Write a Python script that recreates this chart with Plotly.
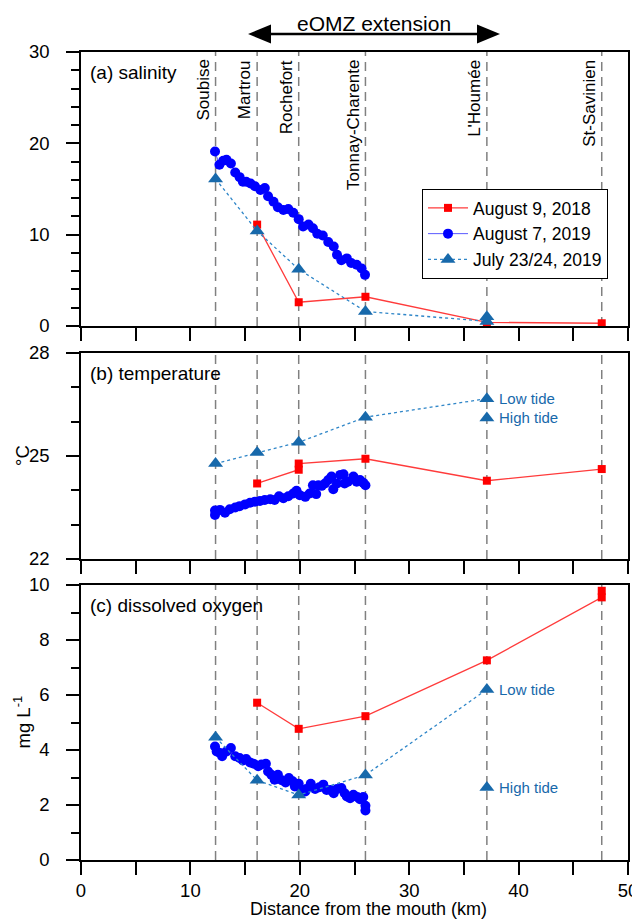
import plotly.graph_objects as go

# ---------------- data ----------------
stations = ["Soubise", "Martrou", "Rochefort", "Tonnay-Charente", "L'Houmée", "St-Savinien"]
station_km = [12.3, 16.1, 19.9, 26.0, 37.1, 47.6]

# August 9, 2018 (red squares)
km_2018_sal = [16.1, 19.9, 26.0, 37.1, 47.6]
sal_2018 = [11.1, 2.6, 3.2, 0.4, 0.3]
km_2018_temp = [16.1, 19.9, 19.9, 26.0, 37.1, 47.6]
temp_2018 = [24.2, 24.6, 24.78, 24.92, 24.28, 24.62]
km_2018_do = [16.1, 19.9, 26.0, 37.1, 47.6, 47.6]
do_2018 = [5.72, 4.77, 5.23, 7.26, 9.55, 9.79]

# July 23/24, 2019 (triangles) - line to low tide at L'Houmée
km_jul = [12.3, 16.1, 19.9, 26.0, 37.1]
sal_jul = [16.1, 10.4, 6.2, 1.6, 0.5]
temp_jul = [24.78, 25.1, 25.4, 26.13, 26.67]
do_jul = [4.46, 2.9, 2.36, 3.09, 6.2]
km_high = [37.1]
sal_high = [1.0]
temp_high = [26.11]
do_high = [2.64]

# August 7, 2019 (blue dots)
km_aug_sal = [12.25, 12.65, 13.0, 13.3, 13.7, 14.1, 14.5, 14.8, 15.1, 15.5, 15.9, 16.4, 16.8,
              17.1, 17.6, 18.0, 18.5, 18.95, 19.4, 19.9, 20.3, 20.8, 21.2, 21.6, 22.1, 22.6,
              23.1, 23.4, 23.8, 24.3, 24.7, 25.2, 25.65, 25.96]
sal_aug = [19.1, 17.65, 18.1, 18.2, 17.8, 16.8, 16.3, 15.8, 15.8, 15.6, 15.3, 14.9, 15.1,
           14.2, 13.6, 13.0, 12.7, 12.8, 12.4, 11.7, 10.9, 11.1, 10.7, 10.1, 9.9, 9.2,
           8.7, 7.8, 7.2, 7.4, 6.9, 6.7, 6.3, 5.6]

km_aug_temp = [12.25, 12.25, 12.7, 13.16, 13.6, 14.1, 14.5, 15.0, 15.45, 15.9, 16.36, 16.8,
               17.3, 17.7, 18.1, 18.5, 18.95, 19.4, 19.7, 20.0, 20.5, 20.9, 21.2, 21.5, 21.7,
               22.0, 22.3, 22.6, 22.9, 23.06, 23.4, 23.7, 24.0, 24.1, 24.4, 24.9, 25.2, 25.5,
               25.8, 26.0]
temp_aug = [23.28, 23.41, 23.43, 23.35, 23.45, 23.5, 23.54, 23.59, 23.64, 23.67, 23.69, 23.72,
            23.74, 23.72, 23.83, 23.77, 23.83, 23.91, 23.99, 23.86, 23.81, 23.91, 24.15, 23.89,
            24.15, 24.13, 24.2, 24.3, 24.4, 24.03, 24.2, 24.45, 24.47, 24.2, 24.25, 24.4, 24.25,
            24.3, 24.22, 24.15]

km_aug_do = [12.25, 12.4, 12.7, 12.9, 13.3, 13.7, 14.1, 14.5, 14.8, 15.1, 15.45, 15.8, 16.2,
             16.5, 16.9, 17.1, 17.4, 17.7, 18.0, 18.35, 18.7, 19.0, 19.35, 19.55, 19.9, 20.2,
             20.5, 20.6, 21.0, 21.4, 21.8, 22.15, 22.45, 22.8, 23.1, 23.4, 23.8, 24.1, 24.3,
             24.6, 24.9, 25.25, 25.5, 25.8, 26.0, 26.0]
do_aug = [4.13, 3.95, 3.89, 3.77, 3.95, 4.07, 3.77, 3.71, 3.62, 3.67, 3.55, 3.5, 3.41,
          3.47, 3.5, 3.22, 3.1, 2.92, 3.1, 2.9, 2.82, 2.98, 2.86, 2.67, 2.77, 2.55,
          2.49, 2.58, 2.77, 2.58, 2.65, 2.74, 2.55, 2.55, 2.43, 2.58, 2.62, 2.43, 2.31,
          2.25, 2.37, 2.29, 2.21, 2.29, 1.97, 1.8]

# ---------------- style ----------------
RED = "#ff0000"
REDLINE = "#ff3b3b"
BLUE = "#0000ff"
TRI = "#1769ab"
FONT = "Liberation Sans, Arial, sans-serif"
FS = 18.5

fig = go.Figure()

def add_panel(series, axes, show):
    xa, ya = axes
    fig.add_trace(go.Scatter(x=series[0][0], y=series[0][1], mode="lines+markers", name="August 9, 2018",
                             line=dict(color=REDLINE, width=1.3),
                             marker=dict(symbol="square", size=8, color=RED),
                             xaxis=xa, yaxis=ya, showlegend=show))
    fig.add_trace(go.Scatter(x=series[1][0], y=series[1][1], mode="lines+markers", name="August 7, 2019",
                             line=dict(color="#5a5aff", width=1),
                             marker=dict(symbol="circle", size=10, color=BLUE),
                             xaxis=xa, yaxis=ya, showlegend=show))
    fig.add_trace(go.Scatter(x=series[2][0], y=series[2][1], mode="lines+markers", name="July 23/24, 2019",
                             line=dict(color="#2f86c8", width=1.3, dash="dot"),
                             marker=dict(symbol="triangle-up", size=13, color=TRI),
                             xaxis=xa, yaxis=ya, showlegend=show))
    fig.add_trace(go.Scatter(x=series[3][0], y=series[3][1], mode="markers",
                             marker=dict(symbol="triangle-up", size=13, color=TRI),
                             xaxis=xa, yaxis=ya, showlegend=False))

add_panel([(km_2018_sal, sal_2018), (km_aug_sal, sal_aug), (km_jul, sal_jul), (km_high, sal_high)],
          ("x", "y"), True)
add_panel([(km_2018_temp, temp_2018), (km_aug_temp, temp_aug), (km_jul, temp_jul), (km_high, temp_high)],
          ("x2", "y2"), False)
add_panel([(km_2018_do, do_2018), (km_aug_do, do_aug), (km_jul, do_jul), (km_high, do_high)],
          ("x3", "y3"), False)

# ---------------- layout ----------------
# the page body adds an 8px offset; work in screen pixels and convert
OFF = 8
W, H = 640 - OFF, 920 - OFF
L_S, R_S, TOP_S, BOT_S = 81, 628, 52, 860          # screen pixel positions of the plot box
TOP, BOT = TOP_S - OFF, BOT_S - OFF
H_PLOT = float(BOT - TOP)
W_PLOT = float(R_S - L_S)

def py(p_screen):
    return (BOT_S - p_screen) / H_PLOT
def px(p_screen):
    return (p_screen - L_S) / W_PLOT
def dom(top_px, bot_px):
    return [py(bot_px), py(top_px)]

tickfont = dict(family=FONT, size=FS, color="black")

def xaxis(anchor, labels):
    return dict(range=[0, 50], anchor=anchor, domain=[0, 1], showline=True, linecolor="black",
                linewidth=1.5, mirror=True, ticks="outside", ticklen=13, tickwidth=1.5,
                tickcolor="black", dtick=10, tick0=0, showticklabels=labels, automargin=False,
                showgrid=False, zeroline=False, tickfont=tickfont, ticklabelstandoff=0,
                minor=dict(dtick=5, ticks="outside", ticklen=13, tickwidth=1.5,
                           tickcolor="black", showgrid=False))

def yaxis(anchor, rng, dtick, tick0, minor, domain):
    return dict(range=rng, anchor=anchor, domain=domain, showline=True, linecolor="black",
                linewidth=1.5, mirror=True, ticks="outside", ticklen=13, tickwidth=1.5,
                tickcolor="black", dtick=dtick, tick0=tick0, showgrid=False, zeroline=False,
                tickfont=tickfont, ticklabelstandoff=13, automargin=False,
                minor=dict(dtick=minor, ticks="outside", ticklen=8, tickwidth=1.5,
                           tickcolor="black", showgrid=False))

fig.update_layout(
    template="none",
    width=W, height=H,
    margin=dict(l=L_S - OFF, r=W - (R_S - OFF), t=TOP, b=H - BOT, autoexpand=False),
    paper_bgcolor="white", plot_bgcolor="white",
    font=dict(family=FONT, size=FS, color="black"),
    xaxis=xaxis("y", False),
    xaxis2=xaxis("y2", False),
    xaxis3=xaxis("y3", True),
    yaxis=yaxis("x", [0, 30], 10, 0, 2, dom(52, 326)),
    yaxis2=yaxis("x2", [22, 28], 3, 22, 1, dom(353, 559)),
    yaxis3=yaxis("x3", [0, 10], 2, 0, 1, dom(585, 860)),
    legend=dict(x=px(422), y=py(189), xanchor="left", yanchor="top",
                bgcolor="white", bordercolor="black", borderwidth=1,
                font=dict(family=FONT, size=17.5, color="black"),
                tracegroupgap=0, itemwidth=40),
    showlegend=True,
)

shapes = []
annotations = []
for xr, yr in [("x", "y"), ("x2", "y2"), ("x3", "y3")]:
    for km in station_km:
        shapes.append(dict(type="line", xref=xr, yref=yr + " domain", x0=km, x1=km, y0=0, y1=1,
                           line=dict(color="#808080", width=1.5, dash="9px,6px"), layer="below"))

for name, km in zip(stations, station_km):
    annotations.append(dict(text=name, xref="x", yref="y domain", x=km, y=1, xanchor="right",
                            yanchor="top", xshift=-1, yshift=-6, textangle=-90, showarrow=False,
                            font=dict(family=FONT, size=17, color="black")))

# panel labels
for text, xr, yr in [("(a) salinity", "x", "y"), ("(b) temperature", "x2", "y2"),
                     ("(c) dissolved oxygen", "x3", "y3")]:
    annotations.append(dict(text=text, xref=xr + " domain", yref=yr + " domain", x=0, y=1,
                            xanchor="left", yanchor="top", xshift=7, yshift=-8, showarrow=False,
                            font=dict(family=FONT, size=19, color="black")))

# tide labels
for xr, yr, low, high in [("x2", "y2", temp_jul[-1], temp_high[0]), ("x3", "y3", do_jul[-1], do_high[0])]:
    annotations.append(dict(text="Low tide", xref=xr, yref=yr, x=km_jul[-1], y=low, xanchor="left",
                            yanchor="middle", xshift=10, showarrow=False,
                            font=dict(family=FONT, size=15, color=TRI)))
    annotations.append(dict(text="High tide", xref=xr, yref=yr, x=km_high[0], y=high, xanchor="left",
                            yanchor="middle", xshift=10, showarrow=False,
                            font=dict(family=FONT, size=15, color=TRI)))

# axis titles
annotations.append(dict(text="°C", xref="paper", yref="paper", x=px(22), y=sum(dom(353, 559)) / 2,
                        textangle=-90, showarrow=False, xanchor="center", yanchor="middle",
                        font=dict(family=FONT, size=FS)))
annotations.append(dict(text="mg L<sup>-1</sup>", xref="paper", yref="paper", x=px(22),
                        y=sum(dom(585, 860)) / 2, textangle=-90, showarrow=False,
                        xanchor="center", yanchor="middle", font=dict(family=FONT, size=FS)))
annotations.append(dict(text="Distance from the mouth (km)", xref="paper", yref="paper",
                        x=px(368), y=py(908.5), showarrow=False, xanchor="center",
                        yanchor="middle", font=dict(family=FONT, size=18)))

# eOMZ extension arrow
ext_left, ext_right = 15.27, 38.3
annotations.append(dict(text="eOMZ extension", xref="x", yref="paper", x=(ext_left + ext_right) / 2,
                        y=py(23), showarrow=False, xanchor="center", yanchor="middle",
                        font=dict(family=FONT, size=21)))
shapes.append(dict(type="line", xref="x", yref="paper", x0=ext_left + 1, x1=ext_right - 1,
                   y0=py(34), y1=py(34), line=dict(color="black", width=2.5)))
hl = 2.1
shapes.append(dict(type="path", xref="x", yref="paper", fillcolor="black", line=dict(width=0),
                   path=f"M {ext_left} {py(34)} L {ext_left + hl} {py(24.5)} L {ext_left + hl} {py(43.5)} Z"))
shapes.append(dict(type="path", xref="x", yref="paper", fillcolor="black", line=dict(width=0),
                   path=f"M {ext_right} {py(34)} L {ext_right - hl} {py(24.5)} L {ext_right - hl} {py(43.5)} Z"))

fig.update_layout(shapes=shapes, annotations=annotations)
fig.write_html("out.html")
